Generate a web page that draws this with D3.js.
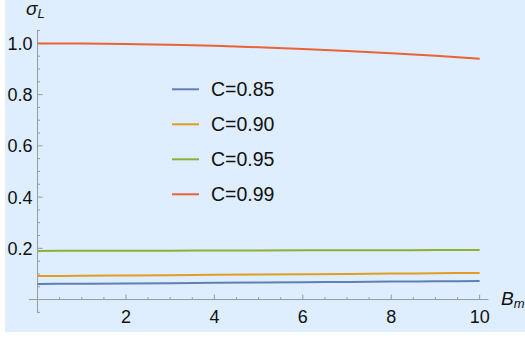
<!DOCTYPE html>
<html><head><meta charset="utf-8">
<script src="https://cdn.jsdelivr.net/npm/d3@7"></script>
<style>body{margin:0;background:#fff}svg{display:block}</style>
</head><body>
<script>
const xs = [0,1,2,3,4,5,6,7,8,9,10];
const seriesNames = ["C=0.85","C=0.90","C=0.95","C=0.99"];
const s085 = [0.061,0.062,0.063,0.0642,0.0653,0.0665,0.0677,0.069,0.0702,0.0714,0.0726];
const s090 = [0.092,0.093,0.0942,0.0954,0.0966,0.0978,0.099,0.1002,0.1015,0.1027,0.104];
const s095 = [0.190,0.1903,0.1906,0.191,0.1913,0.1917,0.1921,0.1925,0.1929,0.1932,0.1935];
const s099 = [1.000,0.9994,0.9976,0.9946,0.9904,0.985,0.9784,0.9706,0.9616,0.9514,0.940];
const colors = ["#5E81B5","#E19C24","#8FB032","#EB6235"];
const xTicks = [2,4,6,8,10];
const yTicks = [0.2,0.4,0.6,0.8,1.0];

const W=525,H=338;
const svg=d3.select("body").append("svg").attr("width",W).attr("height",H);
svg.append("rect").attr("x",5).attr("y",0).attr("width",520).attr("height",332).attr("fill","#DEEEFE");

const x=d3.scaleLinear().domain([-0.2,10.2]).range([28.7,488.5]);
const y=d3.scaleLinear().domain([-0.052,1.053]).range([312.9,29.8]);
const font="Liberation Sans, Arial, Helvetica, sans-serif";
const axisColor="#9a9a9a";

// x axis
const gx=svg.append("g");
gx.append("line").attr("x1",x(-0.2)).attr("x2",x(10.2)).attr("y1",y(0)).attr("y2",y(0)).attr("stroke",axisColor).attr("stroke-width",1);
d3.range(1,21).forEach(i=>{const v=i*0.5;const major=i%4===0;
  gx.append("line").attr("x1",x(v)).attr("x2",x(v)).attr("y1",y(0)).attr("y2",y(0)-(major?5:2.5)).attr("stroke",axisColor);});
gx.selectAll("text").data(xTicks).join("text").attr("x",d=>x(d)).attr("y",323).attr("text-anchor","middle")
  .attr("font-family",font).attr("font-size",18).attr("fill","#111").text(d=>d);

// y axis
const gy=svg.append("g");
gy.append("line").attr("x1",x(0)).attr("x2",x(0)).attr("y1",y(-0.052)).attr("y2",y(1.053)).attr("stroke",axisColor);
d3.range(-1,22).forEach(i=>{const v=i*0.05;if(i===0)return;const major=i%4===0;
  gy.append("line").attr("x1",x(0)).attr("x2",x(0)+(major?5:2.5)).attr("y1",y(v)).attr("y2",y(v)).attr("stroke",axisColor);});
gy.selectAll("text").data(yTicks).join("text").attr("x",32.5).attr("y",d=>y(d)+6.5).attr("text-anchor","end")
  .attr("font-family",font).attr("font-size",18).attr("fill","#111").text(d=>d.toFixed(1));

// axis labels
const yl=svg.append("text").attr("x",26).attr("y",14.5).attr("font-family",font).attr("font-size",19).attr("fill","#111");
yl.append("tspan").attr("font-style","italic").text("σ");
yl.append("tspan").attr("font-size",13).attr("font-style","italic").attr("dy",3.5).text("L");
const xl=svg.append("text").attr("x",501).attr("y",305).attr("font-family",font).attr("font-size",19).attr("fill","#111");
xl.append("tspan").attr("font-style","italic").text("B");
xl.append("tspan").attr("font-size",13).attr("font-style","italic").attr("dy",3).text("m");

// lines
const data=[s085,s090,s095,s099];
const line=d3.line().x((d,i)=>x(xs[i])).y(d=>y(d)).curve(d3.curveNatural);
data.forEach((s,k)=>{svg.append("path").datum(s).attr("d",line).attr("fill","none").attr("stroke",colors[k]).attr("stroke-width",2);});

// legend
seriesNames.forEach((n,k)=>{const ly=89.3+k*35;
  svg.append("line").attr("x1",172).attr("x2",199).attr("y1",ly).attr("y2",ly).attr("stroke",colors[k]).attr("stroke-width",2);
  svg.append("text").attr("x",211).attr("y",ly+7).attr("font-family",font).attr("font-size",19.5).attr("fill","#111").text(n);
});
</script>
</body></html>
